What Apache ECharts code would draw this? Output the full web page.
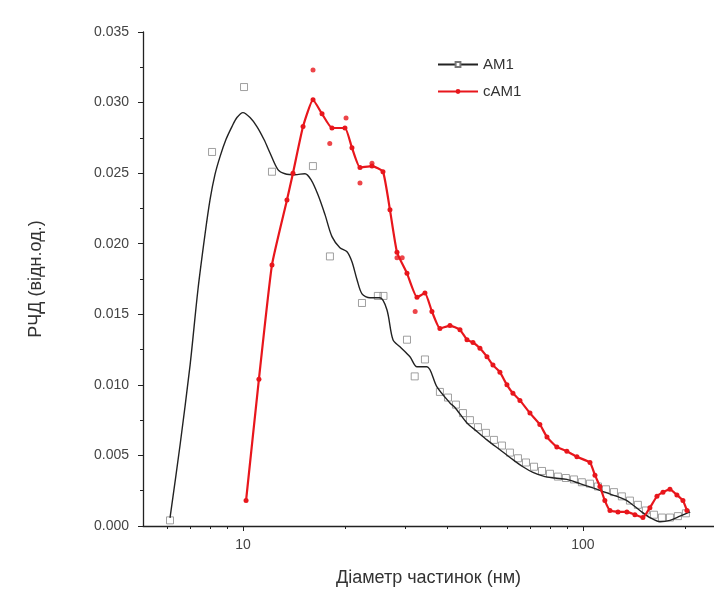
<!DOCTYPE html>
<html><head><meta charset="utf-8">
<script src="https://cdn.jsdelivr.net/npm/echarts@6/dist/echarts.min.js"></script>
<style>html,body{margin:0;padding:0;background:#fff}#c{width:714px;height:597px}</style>
</head><body><div id="c"></div>
<script>
// ---- data ----
const xMajorTicks = [10, 100];
const xMinorTicks = [6, 7, 8, 9, 20, 30, 40, 50, 60, 70, 80, 90, 200];
// AM1 smoothed curve
const am1CurveX = [6.10,6.53,6.99,7.37,7.73,8.00,8.27,8.56,8.91,9.28,9.60,10.0,10.49,10.99,11.53,12.0,12.67,13.29,14.22,15.22,15.85,16.62,17.43,18.27,19.28,20.23,20.92,21.65,22.39,23.63,25.29,26.51,27.62,28.96,30.99,32.50,34.77,37.21,40.63,42.03,45.60,48.78,52.20,57.00,62.25,66.61,71.27,77.3,82.7,89.7,98.0,107.0,116.0,125.9,134.7,147.1,157.4,168.5,180.3,192.9,206.4];
const am1CurveY = [0.00057,0.00574,0.01142,0.01674,0.02064,0.02312,0.02489,0.02617,0.02738,0.02830,0.02894,0.02929,0.02894,0.02830,0.02738,0.02645,0.02525,0.02496,0.02489,0.02496,0.02454,0.02347,0.02206,0.02050,0.01972,0.01943,0.01872,0.01745,0.01645,0.01617,0.01617,0.01532,0.01319,0.01270,0.01199,0.01128,0.01128,0.00986,0.00872,0.0084,0.0073,0.0067,0.0061,0.0054,0.0047,0.0042,0.0038,0.0035,0.0034,0.0033,0.0030,0.0027,0.0024,0.0021,0.0018,0.0011,0.0006,0.0003,0.0004,0.0007,0.0010];
// AM1 measured points (open squares)
const am1PtsX = [6.10,8.11,10.07,12.17,16.06,18.02,22.39,24.93,25.9,30.37,32.0,34.3,37.96,40.09,42.31,44.37,46.52,49.12,51.84,54.73,57.79,61.0,64.4,68.0,71.8,75.8,80.0,84.4,89.1,94.1,99.3,104.9,110.7,116.9,123.4,130.2,137.5,145.1,153.2,161.8,170.8,180.3,190.3,200.9];
const am1PtsY = [0.0004,0.0265,0.0311,0.0251,0.0255,0.0191,0.0158,0.0163,0.0163,0.0132,0.0106,0.0118,0.0095,0.0091,0.0086,0.0080,0.0075,0.0070,0.0066,0.0061,0.0057,0.0052,0.0048,0.0045,0.0042,0.0039,0.0037,0.0035,0.0034,0.0033,0.0031,0.0030,0.0028,0.0026,0.0024,0.0021,0.0018,0.0015,0.0011,0.0008,0.0006,0.0006,0.0007,0.0009];
// cAM1 line with points
const cam1X = [10.21,11.14,12.17,13.47,14.03,15.02,16.07,17.08,18.27,19.95,20.92,22.09,23.96,25.81,27.06,28.38,30.37,32.50,34.30,35.96,37.96,40.63,43.48,45.60,47.49,49.78,52.20,54.37,57.00,59.77,62.25,65.27,69.85,74.7,78.4,83.8,89.7,96.0,104.9,108.5,112.2,116.0,120.1,126.8,134.7,142.2,150.1,157.4,165.1,172.0,180.3,189.0,196.9,202.3];
const cam1Y = [0.0018,0.0104,0.0185,0.0231,0.0250,0.0283,0.0302,0.0292,0.0282,0.0282,0.0268,0.0254,0.0255,0.0251,0.0224,0.0194,0.0179,0.0162,0.0165,0.0152,0.0140,0.0142,0.0139,0.0132,0.0130,0.0126,0.0120,0.0114,0.0109,0.0100,0.0094,0.0089,0.0080,0.0072,0.0063,0.0056,0.0053,0.0049,0.0045,0.0036,0.0028,0.0018,0.0011,0.0010,0.0010,0.0008,0.0006,0.0013,0.0021,0.0024,0.0026,0.0022,0.0018,0.0011];
// cAM1 scattered extra points
const cam1ExtraX = [16.07,18.0,20.1,22.09,23.96,28.38,29.4,32.1];
const cam1ExtraY = [0.0323,0.0271,0.0289,0.0243,0.0257,0.0190,0.0190,0.0152];

const zip = (a, b) => a.map((v, i) => [v, b[i]]);
const font = 'Arial, "Liberation Sans", sans-serif';

const chart = echarts.init(document.getElementById('c'));
chart.setOption({
  backgroundColor: '#fff',
  animation: false,
  textStyle: { fontFamily: font },
  grid: { left: 143, right: 0, top: 32, bottom: 71 },
  legend: {
    data: ['AM1', 'cAM1'],
    orient: 'vertical', left: 432, top: 52,
    itemWidth: 40, itemHeight: 6, itemGap: 12,
    textStyle: { fontSize: 15, color: '#333', fontFamily: font }
  },
  xAxis: [{
    type: 'log', logBase: 10, min: 5.08, max: 243,
    name: 'Діаметр частинок (нм)', nameLocation: 'middle', nameGap: 43,
    nameTextStyle: { fontSize: 18, color: '#333', fontFamily: font },
    axisLine: { lineStyle: { color: '#222', width: 1.3 } },
    axisTick: { length: 5, customValues: xMajorTicks, lineStyle: { color: '#222' } },
    axisLabel: { customValues: xMajorTicks, fontSize: 14, color: '#444', margin: 12, fontFamily: font },
    splitLine: { show: false }
  }, {
    type: 'log', logBase: 10, min: 5.08, max: 243, position: 'bottom',
    axisLine: { show: false },
    axisTick: { length: 3, customValues: xMinorTicks, lineStyle: { color: '#222' } },
    axisLabel: { show: false },
    splitLine: { show: false }
  }],
  yAxis: {
    type: 'value', min: 0, max: 0.035, interval: 0.005,
    name: 'РЧД (відн.од.)', nameLocation: 'middle', nameGap: 98,
    nameTextStyle: { fontSize: 18, color: '#333', fontFamily: font },
    axisLine: { show: true, lineStyle: { color: '#222', width: 1.3 } },
    axisTick: { show: true, length: 5, lineStyle: { color: '#222' } },
    minorTick: { show: true, splitNumber: 2, length: 3, lineStyle: { color: '#222' } },
    axisLabel: { fontSize: 14, color: '#444', margin: 14, fontFamily: font, formatter: v => v.toFixed(3) },
    splitLine: { show: false }
  },
  series: [
    {
      name: 'AM1', type: 'line', smooth: 0.3, data: zip(am1CurveX, am1CurveY),
      showSymbol: false, symbol: 'rect', symbolSize: 6,
      lineStyle: { color: '#222', width: 1.4 },
      itemStyle: { color: '#fff', borderColor: '#777', borderWidth: 1 },
      z: 3
    },
    {
      name: 'AM1 pts', type: 'scatter', data: zip(am1PtsX, am1PtsY),
      symbol: 'rect', symbolSize: 7,
      itemStyle: { color: 'rgba(255,255,255,0)', borderColor: '#888', borderWidth: 1 },
      z: 2
    },
    {
      name: 'cAM1', type: 'line', smooth: 0.15, data: zip(cam1X, cam1Y),
      symbol: 'circle', symbolSize: 5,
      lineStyle: { color: '#e8161c', width: 2.2 },
      itemStyle: { color: '#e8161c' },
      z: 4
    },
    {
      name: 'cAM1 pts', type: 'scatter', data: zip(cam1ExtraX, cam1ExtraY),
      symbol: 'circle', symbolSize: 5,
      itemStyle: { color: '#e8161c' },
      z: 4
    }
  ]
});
</script></body></html>
